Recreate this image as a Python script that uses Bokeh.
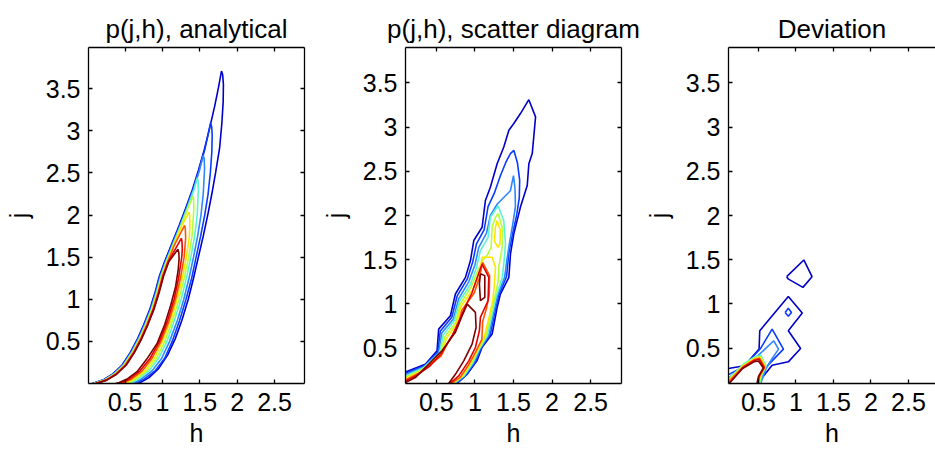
from bokeh.plotting import figure
from bokeh.layouts import row
from bokeh.models import LinearAxis, FixedTicker, Range1d
from bokeh.embed import file_html
from bokeh.resources import INLINE

FONT = "Liberation Sans"

# ---------------- shared styling data ----------------
LEVEL_COLORS = ["#0000cc", "#0a3cff", "#2f86ff", "#5cf5d2", "#b4ff3c",
                "#ffe600", "#ff5500", "#e60000", "#7f0000"]
X_TICKS = [0.5, 1, 1.5, 2, 2.5]
X_TICK_LABELS = ["0.5", "1", "1.5", "2", "2.5"]
Y_TICKS = [0.5, 1, 1.5, 2, 2.5, 3, 3.5]
Y_TICK_LABELS = ["0.5", "1", "1.5", "2", "2.5", "3", "3.5"]
TITLES = ["p(j,h), analytical", "p(j,h), scatter diagram", "Deviation"]

# ---------------- panel 1: analytical ----------------
# shared left flank of the contour bundle (outermost level), h and j
ana_left_h = [0.06, 0.2, 0.33, 0.46, 0.57, 0.66, 0.75, 0.83, 0.9, 0.96, 1.03,
              1.12, 1.22, 1.31, 1.4, 1.48, 1.56, 1.63, 1.7, 1.75, 1.78]
ana_left_j = [0.0, 0.04, 0.11, 0.22, 0.37, 0.52, 0.7, 0.88, 1.08, 1.28, 1.45,
              1.65, 1.87, 2.08, 2.3, 2.53, 2.78, 3.03, 3.3, 3.52, 3.67]
ana_left_shift = [0.0, 0.007, 0.014, 0.021, 0.028, 0.035, 0.042, 0.049, 0.056]
ana_tip_h = [1.789, 1.643, 1.545, 1.465, 1.407, 1.354, 1.296, 1.252, 1.207]
ana_tip_j = [3.71, 3.093, 2.709, 2.44, 2.222, 2.036, 1.878, 1.723, 1.593]
ana_right_h = [
    [1.805, 1.815, 1.812, 1.795, 1.765, 1.71, 1.66, 1.605, 1.545, 1.48, 1.415, 1.345, 1.26, 1.17, 1.07, 0.95, 0.82, 0.68],
    [1.658, 1.665, 1.66, 1.64, 1.61, 1.565, 1.51, 1.45, 1.39, 1.315, 1.23, 1.13, 1.03, 0.9, 0.75, 0.64],
    [1.558, 1.563, 1.545, 1.515, 1.47, 1.415, 1.355, 1.285, 1.2, 1.095, 0.99, 0.86, 0.71, 0.6],
    [1.475, 1.48, 1.465, 1.43, 1.38, 1.32, 1.25, 1.16, 1.06, 0.95, 0.82, 0.67, 0.56],
    [1.416, 1.42, 1.395, 1.35, 1.29, 1.22, 1.135, 1.03, 0.92, 0.79, 0.64, 0.52],
    [1.362, 1.367, 1.36, 1.32, 1.265, 1.195, 1.11, 1.0, 0.89, 0.76, 0.61, 0.49],
    [1.305, 1.31, 1.29, 1.24, 1.175, 1.09, 0.98, 0.86, 0.73, 0.58, 0.46],
    [1.26, 1.265, 1.258, 1.215, 1.155, 1.07, 0.96, 0.835, 0.7, 0.55, 0.43],
    [1.218, 1.222, 1.21, 1.175, 1.11, 1.03, 0.93, 0.79, 0.66, 0.52, 0.42, 0.37],
]
ana_right_j = [
    [3.67, 3.55, 3.35, 3.1, 2.8, 2.5, 2.25, 2.0, 1.75, 1.5, 1.25, 1.0, 0.75, 0.53, 0.34, 0.18, 0.07, 0.0],
    [3.05, 2.95, 2.75, 2.5, 2.25, 2.0, 1.75, 1.5, 1.25, 1.0, 0.75, 0.5, 0.3, 0.15, 0.05, 0.0],
    [2.67, 2.55, 2.25, 2.0, 1.75, 1.5, 1.25, 1.0, 0.75, 0.5, 0.3, 0.15, 0.05, 0.0],
    [2.41, 2.3, 2.0, 1.75, 1.5, 1.25, 1.0, 0.75, 0.5, 0.3, 0.15, 0.05, 0.0],
    [2.19, 2.08, 1.75, 1.5, 1.25, 1.0, 0.75, 0.5, 0.3, 0.15, 0.05, 0.0],
    [2.0, 1.9, 1.75, 1.5, 1.25, 1.0, 0.75, 0.5, 0.3, 0.15, 0.05, 0.0],
    [1.84, 1.73, 1.5, 1.25, 1.0, 0.75, 0.5, 0.3, 0.15, 0.05, 0.0],
    [1.69, 1.6, 1.5, 1.25, 1.0, 0.75, 0.5, 0.3, 0.15, 0.05, 0.0],
    [1.56, 1.48, 1.35, 1.15, 0.93, 0.7, 0.48, 0.29, 0.14, 0.05, 0.012, 0.0],
]

# ---------------- panel 2: scatter diagram (one path per entry) ----------------
sca_level = [0, 1, 2, 3, 4, 5, 5, 6, 7, 8, 8]
sca_h = [
    [0.1, 0.357, 0.509, 0.53, 0.682, 0.747, 0.877, 0.942, 0.985, 1.093, 1.136, 1.2, 1.288, 1.374, 1.44, 1.504, 1.59, 1.699,
     1.786, 1.743, 1.699, 1.678, 1.59, 1.504, 1.461, 1.44, 1.33, 1.288, 1.223, 1.093, 1.028, 0.899, 0.769],
    [0.1, 0.35, 0.52, 0.55, 0.7, 0.77, 0.9, 0.97, 1.02, 1.12, 1.17, 1.25, 1.33, 1.4, 1.46, 1.504,
     1.55, 1.58, 1.575, 1.54, 1.49, 1.44, 1.41, 1.31, 1.27, 1.2, 1.08, 1.01, 0.885, 0.755],
    [0.1, 0.34, 0.53, 0.57, 0.72, 0.79, 0.92, 1.0, 1.05, 1.15, 1.2, 1.29, 1.46, 1.5,
     1.52, 1.525, 1.49, 1.45, 1.415, 1.385, 1.29, 1.25, 1.18, 1.065, 0.99, 0.87, 0.74],
    [0.1, 0.33, 0.54, 0.59, 0.73, 0.8, 0.94, 1.02, 1.07, 1.17, 1.2, 1.301,
     1.374, 1.396, 1.38, 1.355, 1.27, 1.23, 1.16, 1.05, 0.97, 0.855, 0.728],
    [0.1, 0.32, 0.55, 0.61, 0.75, 0.81, 0.95, 1.04, 1.1, 1.158, 1.21, 1.223, 1.266, 1.301,
     1.353, 1.353, 1.31, 1.3, 1.25, 1.21, 1.14, 1.035, 0.95, 0.84, 0.715],
    [0.1, 0.31, 0.555, 0.63, 0.76, 0.82, 0.97, 1.06, 1.093, 1.223, 1.266,
     1.25, 1.23, 1.19, 1.12, 1.02, 0.93, 0.825, 0.7],
    [1.288, 1.331, 1.323, 1.297, 1.253, 1.266, 1.288],
    [0.1, 0.29, 0.56, 0.66, 0.78, 0.83, 0.99, 1.06, 1.1,
     1.19, 1.185, 1.15, 1.1, 1.09, 1.0, 0.91, 0.81, 0.687],
    [0.1, 0.26, 0.42, 0.565, 0.71, 0.8, 0.88, 0.96, 1.03, 1.093,
     1.18, 1.17, 1.071, 1.058, 1.006, 0.92, 0.79, 0.674],
    [0.1, 0.227, 0.38, 0.573, 0.747, 0.834, 0.9, 1.006, 1.015, 0.963, 0.855, 0.747, 0.66],
    [1.071, 1.128, 1.128, 1.071, 1.058, 1.071],
]
sca_j = [
    [0.231, 0.318, 0.469, 0.715, 0.866, 1.112, 1.3, 1.49, 1.717, 1.867, 2.17, 2.32, 2.586, 2.774, 2.964, 3.04, 3.153, 3.31,
     3.115, 2.7, 2.586, 2.34, 2.095, 1.792, 1.565, 1.301, 1.112, 0.96, 0.66, 0.51, 0.36, 0.205, 0.1],
    [0.215, 0.3, 0.46, 0.69, 0.85, 1.09, 1.28, 1.47, 1.68, 1.84, 2.1, 2.25, 2.45, 2.6, 2.7, 2.737,
     2.6, 2.4, 2.2, 2.0, 1.8, 1.58, 1.31, 1.1, 0.95, 0.66, 0.5, 0.35, 0.195, 0.1],
    [0.2, 0.29, 0.45, 0.67, 0.83, 1.06, 1.25, 1.44, 1.64, 1.8, 2.0, 2.13, 2.28, 2.45,
     2.3, 2.1, 1.9, 1.7, 1.5, 1.3, 1.09, 0.93, 0.65, 0.49, 0.34, 0.19, 0.1],
    [0.185, 0.275, 0.44, 0.65, 0.81, 1.03, 1.22, 1.41, 1.6, 1.75, 1.98, 2.11,
     1.94, 1.68, 1.5, 1.3, 1.07, 0.91, 0.64, 0.48, 0.33, 0.185, 0.1],
    [0.17, 0.26, 0.43, 0.63, 0.79, 1.0, 1.19, 1.38, 1.49, 1.55, 1.64, 1.87, 1.98, 2.02,
     1.87, 1.64, 1.42, 1.25, 1.05, 0.89, 0.63, 0.47, 0.32, 0.18, 0.1],
    [0.155, 0.245, 0.42, 0.61, 0.77, 0.97, 1.16, 1.35, 1.527, 1.527, 1.414,
     1.2, 1.03, 0.87, 0.62, 0.46, 0.31, 0.175, 0.1],
    [1.94, 1.83, 1.68, 1.64, 1.71, 1.87, 1.94],
    [0.14, 0.225, 0.41, 0.58, 0.75, 0.93, 1.12, 1.3, 1.47,
     1.32, 1.1, 0.95, 0.8, 0.6, 0.44, 0.3, 0.17, 0.1],
    [0.125, 0.2, 0.3, 0.44, 0.65, 0.82, 0.98, 1.12, 1.3, 1.45,
     1.3, 1.036, 0.847, 0.696, 0.507, 0.356, 0.186, 0.1],
    [0.11, 0.167, 0.3, 0.47, 0.68, 0.866, 0.997, 0.904, 0.734, 0.545, 0.356, 0.204, 0.1],
    [1.34, 1.32, 1.074, 1.036, 1.225, 1.34],
]

# ---------------- panel 3: deviation (one path per entry) ----------------
dev_level = [0, 0, 1, 1, 2, 3, 4, 5, 6, 7, 8]
dev_h = [
    [0.1, 0.313, 0.508, 0.517, 0.898, 1.084, 0.898, 1.062, 0.898, 0.682, 0.487],
    [0.876, 1.105, 1.214, 1.093, 0.9, 0.876],
    [0.1, 0.3, 0.5, 0.53, 0.682, 0.833, 0.682, 0.6, 0.51],
    [0.855, 0.898, 0.94, 0.898, 0.855],
    [0.1, 0.3, 0.5, 0.6, 0.703, 0.768, 0.68, 0.6, 0.53],
    [0.1, 0.3, 0.45, 0.53, 0.6, 0.54, 0.52],
    [0.1, 0.3, 0.45, 0.525, 0.595, 0.53, 0.51],
    [0.1, 0.3, 0.445, 0.52, 0.59, 0.52, 0.5],
    [0.1, 0.295, 0.445, 0.515, 0.582, 0.515, 0.495],
    [0.11, 0.292, 0.443, 0.508, 0.575, 0.508, 0.488],
    [0.105, 0.288, 0.44, 0.5, 0.565, 0.5, 0.48],
]
dev_j = [
    [0.269, 0.3, 0.489, 0.696, 1.085, 0.897, 0.696, 0.496, 0.345, 0.307, 0.1],
    [1.308, 1.497, 1.308, 1.187, 1.28, 1.308],
    [0.2, 0.29, 0.47, 0.5, 0.715, 0.489, 0.356, 0.28, 0.1],
    [0.904, 0.95, 0.904, 0.86, 0.904],
    [0.16, 0.3, 0.42, 0.5, 0.583, 0.489, 0.38, 0.27, 0.1],
    [0.15, 0.32, 0.4, 0.42, 0.3, 0.18, 0.1],
    [0.14, 0.31, 0.39, 0.405, 0.295, 0.185, 0.1],
    [0.13, 0.3, 0.38, 0.395, 0.29, 0.185, 0.1],
    [0.12, 0.29, 0.37, 0.385, 0.285, 0.185, 0.1],
    [0.1, 0.28, 0.36, 0.375, 0.28, 0.186, 0.1],
    [0.1, 0.27, 0.345, 0.355, 0.275, 0.18, 0.1],
]


def build_analytical():
    xs, ys, cs = [], [], []
    for k in range(len(ana_tip_h)):
        hx, jy = [], []
        for h, j in zip(ana_left_h, ana_left_j):
            if j < ana_tip_j[k] - 0.08:
                hx.append(h + ana_left_shift[k])
                jy.append(j)
        hx.append(ana_tip_h[k])
        jy.append(ana_tip_j[k])
        hx += ana_right_h[k]
        jy += ana_right_j[k]
        xs.append(hx)
        ys.append(jy)
        cs.append(LEVEL_COLORS[k])
    return xs, ys, cs


def make_panel(title, xr, yr, width, b_left, b_right, right_axis=True):
    p = figure(title=title, width=width, height=450,
               x_range=Range1d(*xr), y_range=Range1d(*yr),
               x_axis_type=None, y_axis_type=None,
               toolbar_location=None, output_backend="svg",
               min_border_left=b_left, min_border_right=b_right,
               min_border_top=47, min_border_bottom=67)
    p.outline_line_color = None
    p.background_fill_color = "white"
    p.border_fill_color = "white"
    p.title.text_font = FONT
    p.title.text_font_size = "26px"
    p.title.text_font_style = "normal"
    p.title.align = "center"
    p.title.text_color = "black"
    p.title.vertical_align = "top"
    p.title.standoff = 3

    specs = [(LinearAxis(axis_label="h"), "below", True, True),
             (LinearAxis(axis_label="j"), "left", False, True),
             (LinearAxis(), "above", True, False)]
    if right_axis:
        specs.append((LinearAxis(), "right", False, False))
    for ax, side, is_x, labelled in specs:
        ticks = X_TICKS if is_x else Y_TICKS
        names = X_TICK_LABELS if is_x else Y_TICK_LABELS
        ax.ticker = FixedTicker(ticks=ticks)
        if labelled:
            ax.major_label_overrides = {t: s for t, s in zip(ticks, names)}
            ax.major_label_text_font_size = "25px"
        else:
            ax.major_label_overrides = {t: "" for t in ticks}
            ax.major_label_text_font_size = "1px"
            # the top axis keeps a small empty band that lifts the title
            ax.major_label_standoff = 9 if side == "above" else 0
        ax.major_tick_in = 4
        ax.major_tick_out = 0
        ax.minor_tick_line_color = None
        ax.axis_line_color = "black"
        ax.axis_line_width = 1.3
        ax.major_tick_line_color = "black"
        ax.major_tick_line_width = 1.3
        ax.major_label_text_font = FONT
        ax.major_label_text_color = "black"
        ax.axis_label_text_font = FONT
        ax.axis_label_text_font_size = "25px"
        ax.axis_label_text_font_style = "normal"
        ax.axis_label_text_color = "black"
        if labelled and is_x:
            ax.major_label_standoff = 9
            ax.axis_label_standoff = 5
        elif labelled:
            ax.major_label_standoff = 8
            ax.axis_label_standoff = 10
        p.add_layout(ax, side)
    return p


p1 = make_panel(TITLES[0], (0.01, 2.9), (0.0, 3.99), 316, 88, 12)
xs, ys, cs = build_analytical()
p1.multi_line(xs=xs, ys=ys, line_color=cs, line_width=1.6)

p2 = make_panel(TITLES[1], (0.1, 2.9), (0.1, 3.9), 325, 89, 20)
p2.multi_line(xs=sca_h, ys=sca_j, line_color=[LEVEL_COLORS[k] for k in sca_level], line_width=1.6)

p3 = make_panel(TITLES[2], (0.1, 0.1 + 213 / 77.14), (0.1, 3.9), 294, 81, 0, right_axis=False)
p3.multi_line(xs=dev_h, ys=dev_j, line_color=[LEVEL_COLORS[k] for k in dev_level], line_width=1.6)

layout = row(p1, p2, p3)
open("out.html", "w").write(file_html(layout, INLINE))
